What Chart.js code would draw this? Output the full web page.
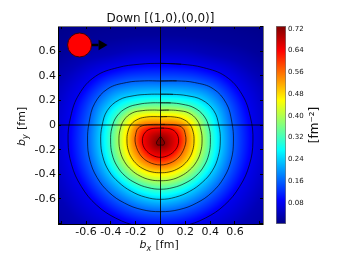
<!DOCTYPE html>
<html>
<head>
<meta charset="utf-8">
<script src="https://cdn.jsdelivr.net/npm/chart.js@4"></script>
<style>
  body { margin: 0; background: #fff; }
  #wrap { position: relative; width: 350px; height: 264px; }
  canvas { position: absolute; left: 0; top: 0; }
</style>
</head>
<body>
<div id="wrap">
  <canvas id="densityChart" width="350" height="264"></canvas>
  <canvas id="colorbarChart" width="350" height="264"></canvas>
</div>
<script>
const titleText = 'Down [(1,0),(0,0)]';

// density is stored as iso-density rings around the peak: distance in fm
// from the peak, per angle (0 = up, 180 = down, mirrored in bx)
const peakBy = -0.13;
const peakDensity = 0.735;
const ringAngles = [0, 15, 30, 45, 60, 75, 90, 105, 120, 135, 150, 165, 180];
const ringLevels = [0.72, 0.64, 0.56, 0.48, 0.40, 0.32, 0.24, 0.16, 0.08, 0.04, 0.02, 0.002];
const ringRadii = [
  [.033, .030, .025, .022, .022, .024, .027, .032, .037, .040, .038, .034, .032],
  [.105, .108, .118, .132, .142, .146, .146, .144, .140, .136, .133, .132, .132],
  [.135, .140, .155, .182, .208, .207, .205, .200, .198, .197, .195, .194, .194],
  [.197, .205, .225, .252, .272, .273, .270, .270, .270, .268, .264, .260, .257],
  [.250, .260, .285, .322, .340, .338, .335, .335, .335, .332, .328, .325, .322],
  [.310, .320, .345, .382, .405, .406, .402, .404, .405, .402, .395, .391, .391],
  [.380, .392, .425, .472, .495, .487, .482, .482, .482, .475, .471, .471, .473],
  [.487, .505, .548, .600, .612, .595, .588, .590, .591, .588, .581, .576, .573],
  [.630, .645, .688, .742, .758, .750, .745, .742, .737, .732, .722, .714, .710],
  [.750, .770, .810, .900, .950, .930, .910, .920, .930, .930, .900, .870, .860],
  [.860, .880, .940, 1.04, 1.10, 1.10, 1.10, 1.12, 1.14, 1.14, 1.08, 1.03, 1.01],
  [1.10, 1.15, 1.25, 1.35, 1.40, 1.40, 1.40, 1.45, 1.50, 1.50, 1.35, 1.30, 1.30]
];
const contourCount = 9;

const bxTicks = [-0.8, -0.6, -0.4, -0.2, 0, 0.2, 0.4, 0.6, 0.8];
const bxTickLabels = ['', '-0.6', '-0.4', '-0.2', '0', '0.2', '0.4', '0.6', ''];
const byTicks = [-0.8, -0.6, -0.4, -0.2, 0, 0.2, 0.4, 0.6, 0.8];
const byTickLabels = ['', '-0.6', '-0.4', '-0.2', '0', '0.2', '0.4', '0.6', ''];

const cbTicks = [0.08, 0.16, 0.24, 0.32, 0.40, 0.48, 0.56, 0.64, 0.72];
const cbTickLabels = ['0.08', '0.16', '0.24', '0.32', '0.40', '0.48', '0.56', '0.64', '0.72'];
const cbRange = [0.003, 0.73];

// quark marker and its spin arrow
const quarkPoint = [{ x: -0.652, y: 0.649 }];
const arrowStem = [{ x: -0.56, y: 0.649 }, { x: -0.5, y: 0.649 }];
const arrowHead = [{ x: -0.475, y: 0.649 }];

const crossV = [{ x: 0, y: -0.803 }, { x: 0, y: 0.803 }];
const crossH = [{ x: -0.826, y: 0 }, { x: 0.826, y: 0 }];

const fontName = '"DejaVu Sans", sans-serif';
const vMax = 0.73;

function jet(t) {
    t = Math.max(0, Math.min(1, t));
    const r = Math.max(0, Math.min(1, 1.5 - Math.abs(4 * t - 3)));
    const g = Math.max(0, Math.min(1, 1.5 - Math.abs(4 * t - 2)));
    const b = Math.max(0, Math.min(1, 1.5 - Math.abs(4 * t - 1)));
    return [Math.round(r * 255), Math.round(g * 255), Math.round(b * 255)];
}

function cubic(p0, p1, p2, p3, t) {
    return p1 + 0.5 * t * (p2 - p0 + t * (2 * p0 - 5 * p1 + 4 * p2 - p3 + t * (3 * (p1 - p2) + p3 - p0)));
}

/**
 * ring radius between the tabulated angles, mirrored at 0 and 180
 */
function ringRadius(row, angle) {
    const last = row.length - 1;
    const f = angle / 15;
    const i = Math.min(last - 1, Math.floor(f));
    const at = k => row[k < 0 ? -k : (k > last ? 2 * last - k : k)];
    return cubic(at(i - 1), at(i), at(i + 1), at(i + 2), f - i);
}

/**
 * density at a point: find the two rings around it along its angle
 */
function densityAt(bx, by) {
    const dy = by - peakBy;
    const r = Math.sqrt(bx * bx + dy * dy);
    const angle = Math.atan2(Math.abs(bx), dy) * 180 / Math.PI;
    let innerR = 0;
    let innerV = peakDensity;
    for (let k = 0; k < ringLevels.length; k++) {
        const outerR = ringRadius(ringRadii[k], angle);
        if (r <= outerR) {
            return innerV + (ringLevels[k] - innerV) * (r - innerR) / (outerR - innerR);
        }
        innerR = outerR;
        innerV = ringLevels[k];
    }
    return 0;
}

/**
 * one closed contour, walking the tabulated angles down the right and up the left
 */
function contourPoints(k) {
    const row = ringRadii[k];
    const toPoint = (angle, radius) => {
        const rad = angle * Math.PI / 180;
        return { x: radius * Math.sin(rad), y: peakBy + radius * Math.cos(rad) };
    };
    const pts = [];
    ringAngles.forEach((a, i) => pts.push(toPoint(a, row[i])));
    for (let i = row.length - 2; i >= 0; i--) pts.push(toPoint(-ringAngles[i], row[i]));
    // one more step past the start so the curve closes without a kink
    pts.push(toPoint(15, row[1]));
    return pts;
}

// paints the density map under the datasets
const heatPlugin = {
    id: 'heat',
    beforeDatasetsDraw(chart) {
        const { ctx, chartArea, scales } = chart;
        const w = Math.round(chartArea.right - chartArea.left);
        const h = Math.round(chartArea.bottom - chartArea.top);
        const off = document.createElement('canvas');
        off.width = w;
        off.height = h;
        const octx = off.getContext('2d');
        const img = octx.createImageData(w, h);
        for (let py = 0; py < h; py++) {
            const by = scales.y.getValueForPixel(chartArea.top + py + 0.5);
            for (let px = 0; px < w; px++) {
                const bx = scales.x.getValueForPixel(chartArea.left + px + 0.5);
                const col = jet(densityAt(bx, by) / vMax);
                const k = (py * w + px) * 4;
                img.data[k] = col[0];
                img.data[k + 1] = col[1];
                img.data[k + 2] = col[2];
                img.data[k + 3] = 255;
            }
        }
        octx.putImageData(img, 0, 0);
        ctx.drawImage(off, chartArea.left, chartArea.top);
    }
};

// axis captions with italic b and a small subscript
const captionPlugin = {
    id: 'captions',
    afterDraw(chart) {
        const { ctx, scales } = chart;
        ctx.save();
        ctx.fillStyle = '#111';
        ctx.textBaseline = 'alphabetic';
        const midX = (scales.x.left + scales.x.right) / 2;
        drawCaption(ctx, midX - 21, 248, 'x');
        ctx.translate(25, 124 + 22);
        ctx.rotate(-Math.PI / 2);
        drawCaption(ctx, 0, 0, 'y');
        ctx.restore();
    }
};

function drawCaption(ctx, x, y, sub) {
    ctx.font = 'italic 11px ' + fontName;
    ctx.fillText('b', x, y);
    ctx.font = 'italic 8px ' + fontName;
    ctx.fillText(sub, x + 7, y + 3);
    ctx.font = '11px ' + fontName;
    ctx.fillText('[fm]', x + 16, y);
}

const tickColor = '#000';

function boxScale(extra) {
    return Object.assign({
        type: 'linear',
        border: { display: true, color: '#000', width: 1, z: 1 },
        grid: { drawOnChartArea: false, tickLength: -3, tickColor: tickColor, tickWidth: 1, z: 1 },
        ticks: { display: false }
    }, extra);
}

const contourSets = ringLevels.slice(0, contourCount).map((level, k) => ({
    data: contourPoints(k),
    showLine: true,
    tension: 0.4,
    pointRadius: 0,
    borderColor: 'rgba(0,0,0,0.7)',
    borderWidth: 0.9,
    order: 5
}));

new Chart(document.getElementById('densityChart'), {
    type: 'scatter',
    data: {
        datasets: [
            { data: quarkPoint, pointRadius: 12, pointBackgroundColor: '#ff0000', pointBorderColor: '#400000', pointBorderWidth: 1, order: 1 },
            { data: arrowHead, pointStyle: 'triangle', rotation: 90, pointRadius: 6, pointBackgroundColor: '#000', pointBorderColor: '#000', pointBorderWidth: 0, order: 2 },
            { data: arrowStem, showLine: true, pointRadius: 0, borderColor: '#000', borderWidth: 2.5, order: 2 },
            { data: crossV, showLine: true, pointRadius: 0, borderColor: 'rgba(0,0,0,0.85)', borderWidth: 1, order: 3 },
            { data: crossH, showLine: true, pointRadius: 0, borderColor: 'rgba(0,0,0,0.85)', borderWidth: 1, order: 3 },
            ...contourSets
        ]
    },
    options: {
        responsive: false,
        animation: false,
        layout: { padding: 0 },
        elements: { line: { capBezierPoints: false } },
        plugins: { legend: { display: false }, tooltip: { enabled: false } },
        scales: {
            x: boxScale({
                position: 'bottom', min: -0.826, max: 0.826,
                afterFit: s => { s.height = 40; },
                afterBuildTicks: s => { s.ticks = bxTicks.map(v => ({ value: v })); },
                ticks: {
                    autoSkip: false, maxRotation: 0, padding: 5, color: '#111',
                    font: { family: fontName, size: 11 },
                    callback: (v, i) => bxTickLabels[i]
                }
            }),
            y: boxScale({
                position: 'left', min: -0.803, max: 0.803,
                afterFit: s => { s.width = 58; },
                afterBuildTicks: s => { s.ticks = byTicks.map(v => ({ value: v })); },
                ticks: {
                    autoSkip: false, padding: 5, color: '#111',
                    font: { family: fontName, size: 11 },
                    callback: (v, i) => byTickLabels[i]
                }
            }),
            xTop: boxScale({
                position: 'top', min: -0.826, max: 0.826,
                border: { display: true, color: '#777', width: 1, z: 1 },
                afterFit: s => { s.height = 26; },
                afterBuildTicks: s => { s.ticks = bxTicks.map(v => ({ value: v })); },
                title: { display: true, text: titleText, color: '#111', padding: { top: 12, bottom: 0 }, font: { family: fontName, size: 12 } }
            }),
            yRight: boxScale({
                position: 'right', min: -0.803, max: 0.803,
                border: { display: true, color: '#777', width: 1, z: 1 },
                afterFit: s => { s.width = 87; },
                afterBuildTicks: s => { s.ticks = byTicks.map(v => ({ value: v })); }
            })
        }
    },
    plugins: [heatPlugin, captionPlugin]
});

// colour bar with its own value axis
const cbCaptionPlugin = {
    id: 'cbCaption',
    afterDraw(chart) {
        const { ctx } = chart;
        ctx.save();
        ctx.translate(318, 125);
        ctx.rotate(-Math.PI / 2);
        ctx.fillStyle = '#111';
        ctx.font = '12px ' + fontName;
        ctx.textAlign = 'center';
        ctx.fillText('[fm\u207B\u00B2]', 0, 0);
        ctx.restore();
    }
};

new Chart(document.getElementById('colorbarChart'), {
    type: 'bar',
    data: {
        labels: ['density'],
        datasets: [{
            data: [cbRange],
            barPercentage: 1,
            categoryPercentage: 1,
            borderWidth: 1,
            borderColor: '#777',
            borderSkipped: false,
            backgroundColor: ctx => {
                const chart = ctx.chart;
                if (!chart.chartArea) return '#000';
                const yScale = chart.scales.y;
                const grad = chart.ctx.createLinearGradient(0, yScale.getPixelForValue(0), 0, yScale.getPixelForValue(vMax));
                for (let i = 0; i <= 32; i++) {
                    const c = jet(i / 32);
                    grad.addColorStop(i / 32, `rgb(${c[0]},${c[1]},${c[2]})`);
                }
                return grad;
            }
        }]
    },
    options: {
        responsive: false,
        animation: false,
        layout: { padding: { left: 276, top: 26, bottom: 40, right: 0 } },
        plugins: { legend: { display: false }, tooltip: { enabled: false } },
        scales: {
            x: { display: false },
            y: {
                position: 'right', min: cbRange[0], max: cbRange[1],
                afterFit: s => { s.width = 64; },
                afterBuildTicks: s => { s.ticks = cbTicks.map(v => ({ value: v })); },
                border: { display: false },
                grid: { drawOnChartArea: false, tickLength: -3, tickColor: '#333', tickWidth: 1 },
                ticks: {
                    autoSkip: false, padding: 5, color: '#111',
                    font: { family: fontName, size: 7 },
                    callback: (v, i) => cbTickLabels[i]
                }
            }
        }
    },
    plugins: [cbCaptionPlugin]
});
</script>
</body>
</html>
